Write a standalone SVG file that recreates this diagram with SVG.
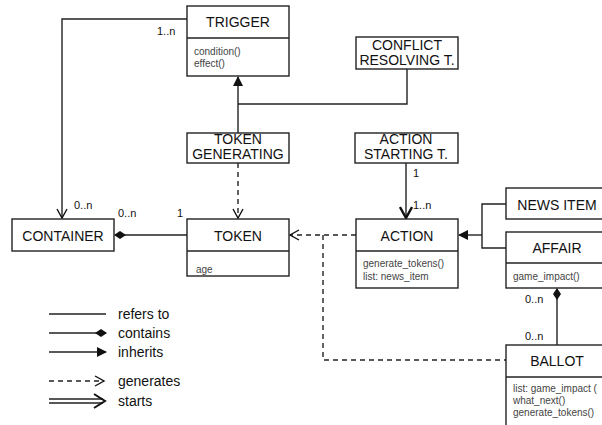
<svg xmlns="http://www.w3.org/2000/svg" width="602" height="425" viewBox="0 0 602 425">
<style>
.box{fill:#fff;stroke:#222;stroke-width:1.4}
.ln{fill:none;stroke:#222;stroke-width:1.4}
.dash{fill:none;stroke:#222;stroke-width:1.4;stroke-dasharray:5,4}
.t{font-family:"Liberation Sans",Arial,sans-serif;font-size:14px;fill:#111;text-anchor:middle}
.a{font-family:"Liberation Sans",Arial,sans-serif;font-size:10px;fill:#444}
.l{font-family:"Liberation Sans",Arial,sans-serif;font-size:11px;fill:#111}
.lg{font-family:"Liberation Sans",Arial,sans-serif;font-size:14px;fill:#111}
</style>
<defs>
<marker id="tri" markerWidth="10" markerHeight="10" refX="9" refY="5" orient="auto" markerUnits="userSpaceOnUse"><path d="M0,0 L10,5 L0,10 Z" fill="#111"/></marker>
<marker id="open" markerWidth="12" markerHeight="12" refX="10" refY="6" orient="auto" markerUnits="userSpaceOnUse"><path d="M1,1 L10,6 L1,11" fill="none" stroke="#111" stroke-width="1.4"/></marker>
<marker id="thick" markerWidth="14" markerHeight="14" refX="12" refY="7" orient="auto" markerUnits="userSpaceOnUse"><path d="M1,1 L12,7 L1,13" fill="none" stroke="#111" stroke-width="2.4"/></marker>
<marker id="dia" markerWidth="12" markerHeight="10" refX="11" refY="5" orient="auto" markerUnits="userSpaceOnUse"><path d="M0,5 L6,1 L12,5 L6,9 Z" fill="#111"/></marker>
</defs>
<rect width="602" height="425" fill="#fff"/>
<g id="connectors">
<path class="ln" d="M187,19 H62 V218" marker-end="url(#open)"/>
<path class="ln" d="M407,69 V104 H238"/>
<path class="ln" d="M238,133 V77" marker-end="url(#tri)"/>
<path class="dash" d="M238,163 V218" marker-end="url(#open)"/>
<path class="ln" d="M406,163 V218" stroke-width="3" marker-end="url(#thick)"/>
<path class="ln" d="M187,235 H115" marker-end="url(#dia)"/>
<path class="dash" d="M356,235 H290" marker-end="url(#open)"/>
<path class="dash" d="M323,235 V360 H506"/>
<path class="ln" d="M506,204 H482 V248 H506"/>
<path class="ln" d="M482,235 H459" marker-end="url(#tri)"/>
<path class="ln" d="M557,345 V289" marker-end="url(#dia)"/>
</g>
<g id="trigger">
<rect class="box" x="187" y="6" width="102" height="70"/>
<line class="ln" x1="187" y1="38" x2="289" y2="38"/>
<text class="t" x="238" y="27">TRIGGER</text>
<text class="a" x="194" y="55">condition()</text>
<text class="a" x="194" y="67">effect()</text>
</g>
<g id="conflict">
<rect class="box" x="356" y="37" width="102" height="32"/>
<text class="t" x="407" y="50">CONFLICT</text>
<text class="t" x="407" y="65">RESOLVING T.</text>
</g>
<g id="tokengen">
<rect class="box" x="187" y="133" width="102" height="30"/>
<text class="t" x="238" y="144">TOKEN</text>
<text class="t" x="238" y="159">GENERATING</text>
</g>
<g id="actionstart">
<rect class="box" x="355" y="133" width="103" height="30"/>
<text class="t" x="406" y="144">ACTION</text>
<text class="t" x="406" y="159">STARTING T.</text>
</g>
<g id="container">
<rect class="box" x="12" y="219" width="102" height="32"/>
<text class="t" x="63" y="241">CONTAINER</text>
</g>
<g id="token">
<rect class="box" x="187" y="219" width="102" height="57"/>
<line class="ln" x1="187" y1="251" x2="289" y2="251"/>
<text class="t" x="238" y="241">TOKEN</text>
<text class="a" x="196" y="273">age</text>
</g>
<g id="action">
<rect class="box" x="356" y="219" width="102" height="69"/>
<line class="ln" x1="356" y1="251" x2="458" y2="251"/>
<text class="t" x="407" y="241">ACTION</text>
<text class="a" x="363" y="267">generate_tokens()</text>
<text class="a" x="363" y="280">list: news_item</text>
</g>
<g id="newsitem">
<rect class="box" x="506" y="188" width="102" height="31"/>
<text class="t" x="557" y="210">NEWS ITEM</text>
</g>
<g id="affair">
<rect class="box" x="506" y="232" width="102" height="56"/>
<line class="ln" x1="506" y1="263" x2="608" y2="263"/>
<text class="t" x="557" y="253">AFFAIR</text>
<text class="a" x="513" y="280">game_impact()</text>
</g>
<g id="ballot">
<rect class="box" x="506" y="345" width="102" height="90"/>
<line class="ln" x1="506" y1="377" x2="608" y2="377"/>
<text class="t" x="557" y="366">BALLOT</text>
<text class="a" x="513" y="392">list: game_impact (</text>
<text class="a" x="513" y="404">what_next()</text>
<text class="a" x="513" y="416">generate_tokens()</text>
</g>
<g id="labels">
<text class="l" x="157" y="35">1..n</text>
<text class="l" x="74" y="209">0..n</text>
<text class="l" x="118" y="217">0..n</text>
<text class="l" x="177" y="217">1</text>
<text class="l" x="413" y="177">1</text>
<text class="l" x="413" y="209">1..n</text>
<text class="l" x="525" y="303">0..n</text>
<text class="l" x="525" y="340">0..n</text>
</g>
<g id="legend">
<line class="ln" x1="49" y1="314" x2="106" y2="314"/>
<path class="ln" d="M49,333 H106" marker-end="url(#dia)"/>
<path class="ln" d="M49,352 H106" marker-end="url(#tri)"/>
<path class="dash" d="M49,381 H104" marker-end="url(#open)"/>
<path class="ln" d="M49,399 H103 M49,403 H103"/>
<path d="M94,394 L105,401 L94,408" fill="none" stroke="#111" stroke-width="2"/>
<text class="lg" x="118" y="319">refers to</text>
<text class="lg" x="118" y="338">contains</text>
<text class="lg" x="118" y="357">inherits</text>
<text class="lg" x="118" y="386">generates</text>
<text class="lg" x="118" y="406">starts</text>
</g>
</svg>
